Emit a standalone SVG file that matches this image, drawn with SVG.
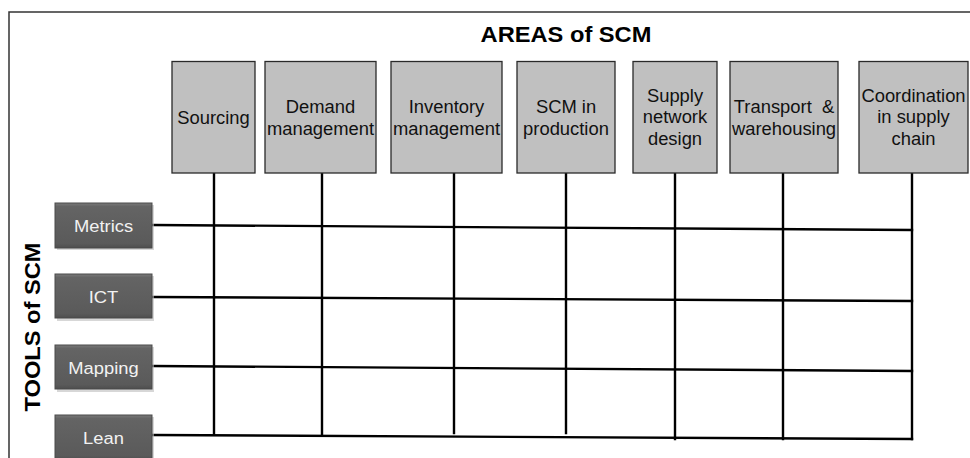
<svg xmlns="http://www.w3.org/2000/svg" width="970" height="458" viewBox="0 0 970 458">
<style>
.area rect{fill:#c0c0c0;stroke:#2a2a2a;stroke-width:1.3}
.area text{font-family:"Liberation Sans",Arial,sans-serif;font-size:17.5px;fill:#111;text-anchor:middle}
.tool rect.b{fill:url(#tg);stroke:#4a4a4a;stroke-width:1}
.tool rect.s{fill:#bdbdbd;opacity:0.6}
.tool text{font-family:"Liberation Sans",Arial,sans-serif;font-size:17px;fill:#f2f2f2;text-anchor:middle}
.title{font-family:"Liberation Sans",Arial,sans-serif;font-size:21.5px;font-weight:bold;fill:#000;text-anchor:middle}
#connectors line{stroke:#000;stroke-width:2.4;stroke-linecap:square}
</style>
<defs>
<linearGradient id="tg" x1="0" y1="0" x2="0" y2="1">
<stop offset="0" stop-color="#7a7a7a"/>
<stop offset="0.08" stop-color="#646464"/>
<stop offset="0.9" stop-color="#5a5a5a"/>
<stop offset="1" stop-color="#4e4e4e"/>
</linearGradient>
</defs>
<rect width="970" height="458" fill="#fff"/>
<path d="M9,458 V12 H970" fill="none" stroke="#333" stroke-width="1.5"/>
<text class="title" transform="translate(566,41.5) scale(1.1,1)">AREAS of SCM</text>
<text class="title" transform="translate(40,327) rotate(-90) scale(1.1,1)">TOOLS of SCM</text>

<g id="connectors">
<line x1="214" y1="173" x2="214" y2="434"/>
<line x1="322" y1="173" x2="322" y2="434"/>
<line x1="454" y1="173" x2="454" y2="433"/>
<line x1="566" y1="173" x2="566" y2="433"/>
<line x1="675" y1="173" x2="675" y2="439"/>
<line x1="783" y1="173" x2="783" y2="439"/>
<line x1="912" y1="173" x2="912" y2="439"/>
<line x1="153" y1="225" x2="912" y2="230"/>
<line x1="153" y1="297" x2="912" y2="301"/>
<line x1="153" y1="366" x2="912" y2="371"/>
<line x1="153" y1="435" x2="912" y2="439"/>
</g>

<g id="area-sourcing" class="area"><rect x="172" y="61.5" width="83" height="111.5"/>
<text transform="translate(213.5,124) scale(1.05,1)">Sourcing</text></g>
<g id="area-demand" class="area"><rect x="265" y="61.5" width="111" height="111.5"/>
<text transform="translate(320.5,113) scale(1.05,1)"><tspan x="0">Demand</tspan><tspan x="0" dy="22.5">management</tspan></text></g>
<g id="area-inventory" class="area"><rect x="391" y="61.5" width="111" height="111.5"/>
<text transform="translate(446.5,113) scale(1.05,1)"><tspan x="0">Inventory</tspan><tspan x="0" dy="22.5">management</tspan></text></g>
<g id="area-production" class="area"><rect x="517" y="61.5" width="98" height="111.5"/>
<text transform="translate(566,113) scale(1.05,1)"><tspan x="0">SCM in</tspan><tspan x="0" dy="22.5">production</tspan></text></g>
<g id="area-network" class="area"><rect x="633" y="61.5" width="84" height="111.5"/>
<text transform="translate(675,102) scale(1.05,1)"><tspan x="0">Supply</tspan><tspan x="0" dy="21.5">network</tspan><tspan x="0" dy="21.5">design</tspan></text></g>
<g id="area-transport" class="area"><rect x="730" y="61.5" width="108" height="111.5"/>
<text transform="translate(784,113) scale(1.05,1)" xml:space="preserve"><tspan x="0">Transport  &amp;</tspan><tspan x="0" dy="22.5">warehousing</tspan></text></g>
<g id="area-coordination" class="area"><rect x="859" y="61.5" width="109" height="111.5"/>
<text transform="translate(913.5,102) scale(1.05,1)"><tspan x="0">Coordination</tspan><tspan x="0" dy="21.5">in supply</tspan><tspan x="0" dy="21.5">chain</tspan></text></g>

<g id="tool-metrics" class="tool"><rect class="s" x="57" y="205" width="97" height="45"/><rect class="b" x="55" y="203" width="97" height="45"/>
<text transform="translate(103.5,232) scale(1.08,1)">Metrics</text></g>
<g id="tool-ict" class="tool"><rect class="s" x="57" y="276" width="97" height="45"/><rect class="b" x="55" y="274" width="97" height="44"/>
<text transform="translate(103.5,303) scale(1.08,1)">ICT</text></g>
<g id="tool-mapping" class="tool"><rect class="s" x="57" y="347" width="97" height="45"/><rect class="b" x="55" y="345" width="97" height="44"/>
<text transform="translate(103.5,374) scale(1.08,1)">Mapping</text></g>
<g id="tool-lean" class="tool"><rect class="s" x="57" y="417" width="97" height="45"/><rect class="b" x="55" y="415" width="97" height="45"/>
<text transform="translate(103.5,444) scale(1.08,1)">Lean</text></g>
</svg>
